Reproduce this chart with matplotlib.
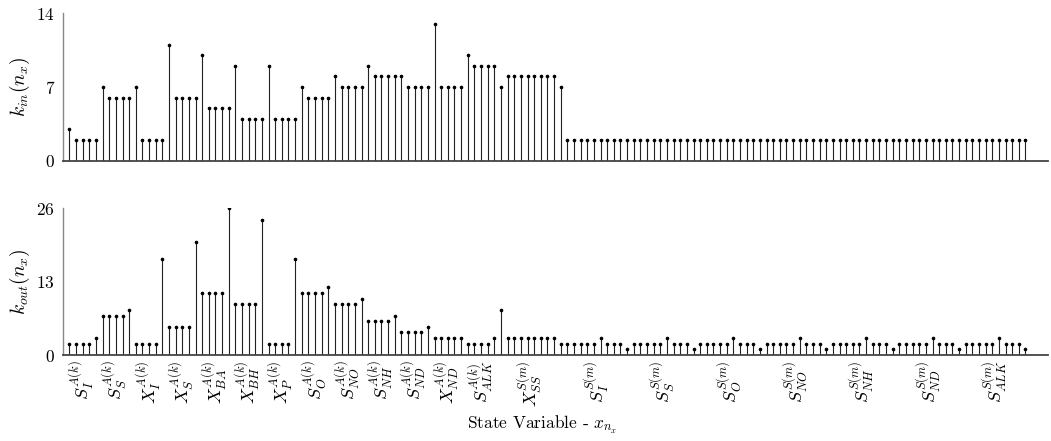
import matplotlib
matplotlib.use("Agg")
import matplotlib.pyplot as plt
import numpy as np

plt.rcParams['font.family'] = ['cmr10']
plt.rcParams['mathtext.fontset'] = 'cm'
plt.rcParams['axes.formatter.use_mathtext'] = True

# in-degree per state variable (reactor: 5 compartments per variable, settler: 10 layers)
k_in = [
    3, 2, 2, 2, 2,          # S_I A(k)
    7, 6, 6, 6, 6,          # S_S
    7, 2, 2, 2, 2,          # X_I
    11, 6, 6, 6, 6,         # X_S
    10, 5, 5, 5, 5,         # X_BA
    9, 4, 4, 4, 4,          # X_BH
    9, 4, 4, 4, 4,          # X_P
    7, 6, 6, 6, 6,          # S_O
    8, 7, 7, 7, 7,          # S_NO
    9, 8, 8, 8, 8,          # S_NH
    8, 7, 7, 7, 7,          # S_ND
    13, 7, 7, 7, 7,         # X_ND
    10, 9, 9, 9, 9,         # S_ALK
    7, 8, 8, 8, 8, 8, 8, 8, 8, 7,   # X_SS S(m)
    2, 2, 2, 2, 2, 2, 2, 2, 2, 2,   # S_I S(m)
    2, 2, 2, 2, 2, 2, 2, 2, 2, 2,   # S_S
    2, 2, 2, 2, 2, 2, 2, 2, 2, 2,   # S_O
    2, 2, 2, 2, 2, 2, 2, 2, 2, 2,   # S_NO
    2, 2, 2, 2, 2, 2, 2, 2, 2, 2,   # S_NH
    2, 2, 2, 2, 2, 2, 2, 2, 2, 2,   # S_ND
    2, 2, 2, 2, 2, 2, 2, 2, 2, 2,   # S_ALK
]

k_out = [
    2, 2, 2, 2, 3,
    7, 7, 7, 7, 8,
    2, 2, 2, 2, 17,
    5, 5, 5, 5, 20,
    11, 11, 11, 11, 26,
    9, 9, 9, 9, 24,
    2, 2, 2, 2, 17,
    11, 11, 11, 11, 12,
    9, 9, 9, 9, 10,
    6, 6, 6, 6, 7,
    4, 4, 4, 4, 5,
    3, 3, 3, 3, 3,
    2, 2, 2, 2, 3,
    8, 3, 3, 3, 3, 3, 3, 3, 3, 2,
    2, 2, 2, 2, 2, 3, 2, 2, 2, 1,
    2, 2, 2, 2, 2, 3, 2, 2, 2, 1,
    2, 2, 2, 2, 2, 3, 2, 2, 2, 1,
    2, 2, 2, 2, 2, 3, 2, 2, 2, 1,
    2, 2, 2, 2, 2, 3, 2, 2, 2, 1,
    2, 2, 2, 2, 2, 3, 2, 2, 2, 1,
    2, 2, 2, 2, 2, 3, 2, 2, 2, 1,
]

group_labels = [
    r'$S_I^{A(k)}$', r'$S_S^{A(k)}$', r'$X_I^{A(k)}$', r'$X_S^{A(k)}$',
    r'$X_{BA}^{A(k)}$', r'$X_{BH}^{A(k)}$', r'$X_P^{A(k)}$', r'$S_O^{A(k)}$',
    r'$S_{NO}^{A(k)}$', r'$S_{NH}^{A(k)}$', r'$S_{ND}^{A(k)}$', r'$X_{ND}^{A(k)}$',
    r'$S_{ALK}^{A(k)}$', r'$X_{SS}^{S(m)}$', r'$S_I^{S(m)}$', r'$S_S^{S(m)}$',
    r'$S_O^{S(m)}$', r'$S_{NO}^{S(m)}$', r'$S_{NH}^{S(m)}$', r'$S_{ND}^{S(m)}$',
    r'$S_{ALK}^{S(m)}$',
]
group_sizes = [5] * 13 + [10] * 8

x = np.arange(1, len(k_in) + 1)
starts = np.concatenate([[1], 1 + np.cumsum(group_sizes)[:-1]])
centers = starts + (np.array(group_sizes) - 1) / 2.0

fig = plt.figure(figsize=(10.51, 4.41), dpi=100)
ax1 = fig.add_axes([0.0597, 0.6356, 0.9375, 0.3342])
ax2 = fig.add_axes([0.0597, 0.195, 0.9375, 0.3327])

def draw(ax, vals, ymax, yticks, ylabel):
    ml, sl, bl = ax.stem(x, vals, linefmt='k-', markerfmt='k.', basefmt=' ')
    sl.set_linewidth(0.8)
    sl.set_color('#222222')
    ml.set_markersize(3.2)
    ax.set_xlim(0, 148.4)
    ax.set_ylim(0, ymax)
    ax.set_yticks(yticks)
    ax.tick_params(axis='both', length=0, labelsize=12.5)
    ax.tick_params(axis='y', pad=5.5)
    for s in ['top', 'right']:
        ax.spines[s].set_visible(False)
    ax.spines['left'].set_color('#888888')
    ax.spines['left'].set_linewidth(1.0)
    ax.spines['bottom'].set_color('#444444')
    ax.spines['bottom'].set_linewidth(1.3)
    ax.set_ylabel(ylabel, fontsize=14)
    ax.yaxis.set_label_coords(-0.031, 0.5)

draw(ax1, k_in, 14, [0, 7, 14], r'$k_{in}(n_x)$')
ax1.set_xticks([])

draw(ax2, k_out, 26, [0, 13, 26], r'$k_{out}(n_x)$')
ax2.set_xticks(centers)
ax2.set_xticklabels(group_labels, rotation=90, fontsize=13)
ax2.tick_params(axis='x', pad=4)

fig.text(542 / 1051, 1 - 425 / 441, r'State Variable - $x_{n_x}$',
         ha='center', va='center', fontsize=12.5)

fig.savefig('out.png', dpi=100)
